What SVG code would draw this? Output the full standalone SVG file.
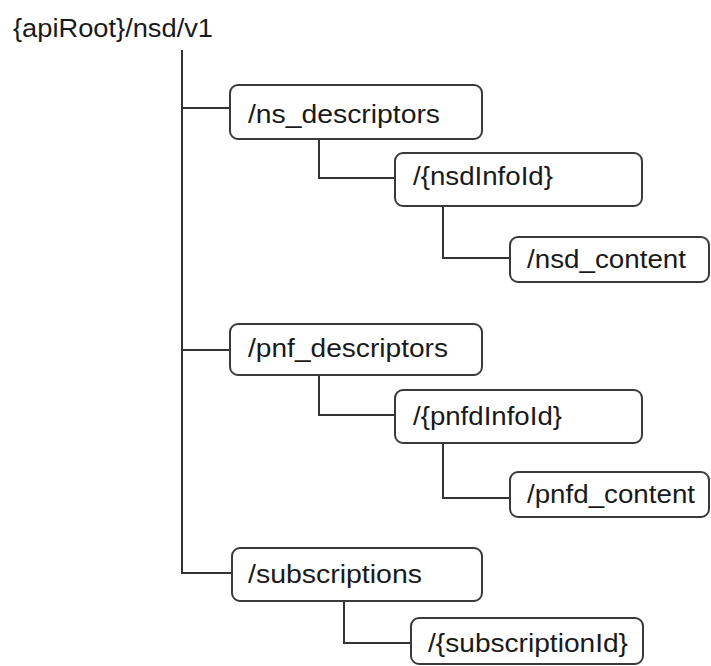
<svg xmlns="http://www.w3.org/2000/svg" width="711" height="666" viewBox="0 0 711 666">
<style>
.box{fill:#fff;stroke:#3a3a3a;stroke-width:2}
.ln{fill:none;stroke:#333;stroke-width:2}
text{font-family:"Liberation Sans",Arial,sans-serif;font-size:25px;fill:#1a1a1a}
</style>
<rect width="711" height="666" fill="#fff"/>
<g id="connectors">
<path class="ln" d="M182,50 V573 H232"/>
<path class="ln" d="M182,108 H230"/>
<path class="ln" d="M182,350 H230"/>
<path class="ln" d="M319,139 V178 H395"/>
<path class="ln" d="M443,206 V258 H510"/>
<path class="ln" d="M319,375 V415 H395"/>
<path class="ln" d="M443,443 V498 H510"/>
<path class="ln" d="M344,601 V643 H411"/>
</g>
<g id="root"><text x="13" y="37" textLength="200" lengthAdjust="spacingAndGlyphs">{apiRoot}/nsd/v1</text></g>
<g id="ns_descriptors"><rect class="box" x="230" y="85" width="252" height="54" rx="8"/><text x="248" y="123" textLength="192" lengthAdjust="spacingAndGlyphs">/ns_descriptors</text></g>
<g id="nsdInfoId"><rect class="box" x="395" y="153" width="247" height="53" rx="8"/><text x="413" y="185" textLength="140" lengthAdjust="spacingAndGlyphs">/{nsdInfoId}</text></g>
<g id="nsd_content"><rect class="box" x="510" y="237" width="199" height="45" rx="8"/><text x="527" y="268" textLength="159" lengthAdjust="spacingAndGlyphs">/nsd_content</text></g>
<g id="pnf_descriptors"><rect class="box" x="230" y="324" width="252" height="51" rx="8"/><text x="248" y="357" textLength="200" lengthAdjust="spacingAndGlyphs">/pnf_descriptors</text></g>
<g id="pnfdInfoId"><rect class="box" x="395" y="390" width="247" height="53" rx="8"/><text x="413" y="425" textLength="149" lengthAdjust="spacingAndGlyphs">/{pnfdInfoId}</text></g>
<g id="pnfd_content"><rect class="box" x="510" y="472" width="199" height="45" rx="8"/><text x="527" y="503" textLength="168" lengthAdjust="spacingAndGlyphs">/pnfd_content</text></g>
<g id="subscriptions"><rect class="box" x="232" y="548" width="250" height="53" rx="8"/><text x="248" y="583" textLength="174" lengthAdjust="spacingAndGlyphs">/subscriptions</text></g>
<g id="subscriptionId"><rect class="box" x="411" y="618" width="232" height="46" rx="8"/><text x="428" y="652" textLength="200" lengthAdjust="spacingAndGlyphs">/{subscriptionId}</text></g>
</svg>
